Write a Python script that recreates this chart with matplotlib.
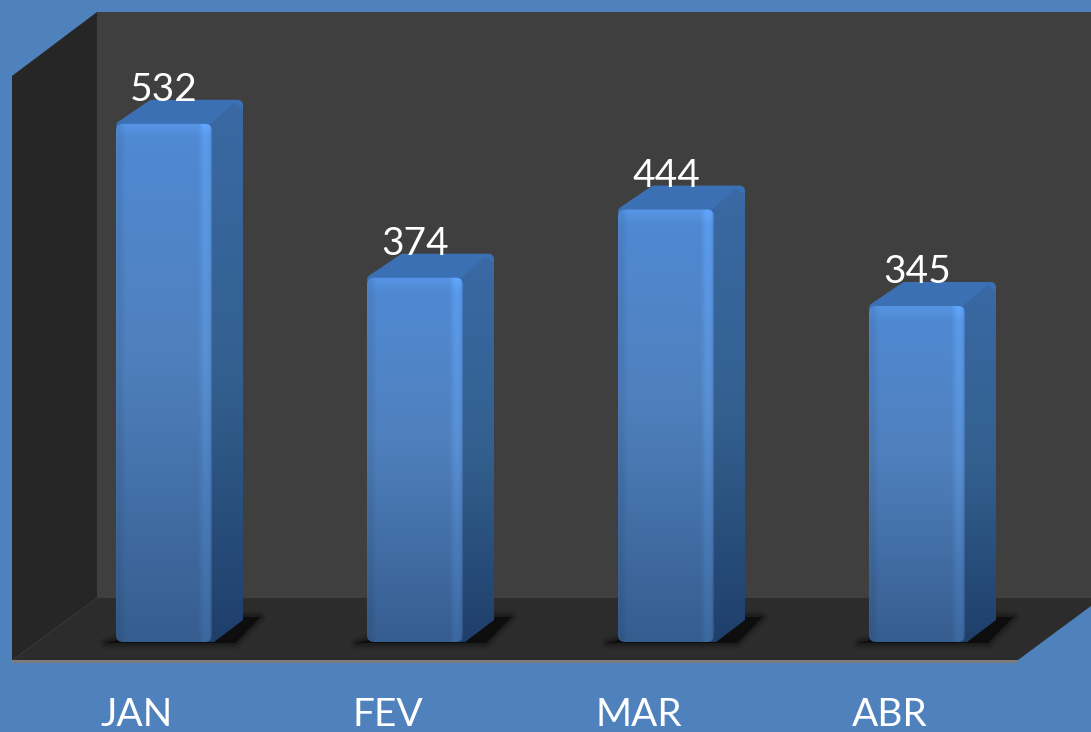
import numpy as np
import matplotlib
matplotlib.use("Agg")
import matplotlib.pyplot as plt
from matplotlib.patches import Polygon, FancyBboxPatch
from matplotlib.transforms import Affine2D

categories = ["JAN", "FEV", "MAR", "ABR"]
values = [532, 374, 444, 345]

W, H = 1091, 732
BLUE = "#4f81bd"
fig = plt.figure(figsize=(W / 100, H / 100), dpi=100, facecolor=BLUE)
ax = fig.add_axes([0, 0, 1, 1])
ax.axis("off")
# scale: category spacing 251 px, 0.974 px per unit, origin at (164, 642) px
SX, SY, X0, Y0 = 251.0, 0.974, 164.0, 642.0
xlim = (-X0 / SX, (W - X0) / SX)
ylim = ((Y0 - H) / SY, Y0 / SY)
ax.set_xlim(*xlim)
ax.set_ylim(*ylim)
pix = Affine2D().scale(1 / W, -1 / H).translate(0, 1) + fig.transFigure


def poly(pts, color, z):
    p = Polygon(pts, closed=True, facecolor=color, edgecolor="none", transform=pix, zorder=z)
    ax.add_patch(p)
    return p


# chart box
poly([(97, 12), (1091, 12), (1091, 598), (97, 598)], "#3f3f3f", 1)
poly([(12, 76), (97, 12), (97, 598), (12, 660)], "#262626", 1.1)
poly([(12, 660), (97, 598), (1091, 598), (1091, 606), (1018, 660)], "#2c2c2c", 1.2)
poly([(12, 660), (1018, 660), (1018, 663), (12, 663)], "#7c7c7c", 1.3)


def lerp(stops, t):
    xs = [s[0] for s in stops]
    return np.stack([np.interp(t, xs, [s[1][k] for s in stops]) for k in range(3)], axis=-1)


def hexc(h):
    return tuple(int(h[i:i + 2], 16) / 255 for i in (1, 3, 5))


BW = 96 / SX  # front face width, data units
DX, DY = 31 / SX, 24 / SY  # depth offset, data units
PXX, PXY = 1 / SX, 1 / SY
for i, v in enumerate(values):
    x0, x1 = i - BW / 2, i + BW / 2
    cx = X0 + i * SX
    # floor shadow, soft edge from stacked translucent outlines
    for grow, a in [(9, .10), (6, .15), (3, .25), (0, .85)]:
        p = Polygon([(cx - 58, 643), (cx + 71, 643), (cx + 96, 617), (cx + 40, 617)], closed=True,
                    facecolor="#0c0c0c", edgecolor="#0c0c0c", lw=grow, alpha=a,
                    transform=pix, zorder=2, joinstyle="round")
        ax.add_patch(p)

    # top face (inset polygon with a thick round-joined edge gives rounded corners)
    inset = 5
    top = Polygon([(x0 + inset * PXX, v - 2 * PXY),
                   (x0 + DX + 5 * PXX, v + DY - inset * PXY),
                   (x1 + DX - inset * PXX, v + DY - inset * PXY),
                   (x1 + DX - inset * PXX, v),
                   (x1, v - 2 * PXY)], closed=True,
                  facecolor="#3b70b4", edgecolor="#3b70b4", lw=2 * inset * 0.72,
                  joinstyle="round", zorder=3)
    ax.add_patch(top)

    # side face with chamfered upper and lower corners
    side_pts = [(x1 - 6 * PXX, 0), (x1 + 2 * PXX, 0), (x1 + DX, DY - 2 * PXY),
                (x1 + DX, v + DY - 9 * PXY), (x1 + DX - 9 * PXX, v + DY - 3 * PXY),
                (x1 - 2 * PXX, v)]
    side = Polygon(side_pts, closed=True, facecolor="none", edgecolor="none", zorder=3.1)
    ax.add_patch(side)
    t = np.linspace(0, 1, 80)
    sc = lerp([(0, hexc("#3a69a4")), (0.5, hexc("#33608f")), (1, hexc("#1f3f6b"))], t)[:, None, :]
    im = ax.imshow(sc, extent=(x1 - 6 * PXX, x1 + DX, 0, v + DY), origin="upper", aspect="auto",
                   zorder=3.1, interpolation="bilinear")
    im.set_clip_path(side)

    # front face
    front = FancyBboxPatch((x0, 0), BW, v, boxstyle="round,pad=0,rounding_size=0.028",
                           mutation_aspect=SX / SY, facecolor="none", edgecolor="none", zorder=3.2)
    ax.add_patch(front)
    ny, nx = 200, 96
    ty = np.linspace(0, 1, ny)
    base = lerp([(0, hexc("#508ad4")), (0.45, hexc("#4f80bd")), (1, hexc("#365d8f"))], ty)
    tx = np.linspace(0, 1, nx)
    hl = np.interp(tx, [0, 0.03, 0.10, 0.86, 0.93, 0.98, 1], [0.95, 0.92, 1.0, 1.0, 1.13, 1.10, 0.92])
    img = np.clip(base[:, None, :] * hl[None, :, None], 0, 1)
    # light rim along the top of the face
    rim = np.clip(1 - np.arange(ny) / (ny * 14 / max(v * SY, 1)), 0, 1)[:, None, None]
    img = np.clip(img * (1 + 0.08 * rim), 0, 1)
    im = ax.imshow(img, extent=(x0, x1, 0, v), origin="upper", aspect="auto",
                   zorder=3.2, interpolation="bilinear")
    im.set_clip_path(front)

    ax.text(i, v + 34 / SY, str(v), color="white", fontsize=28, family="Lato",
            ha="center", va="center", zorder=5)

for i, c in enumerate(categories):
    ax.text(i - 27 / SX, -73 / SY, c, color="white", fontsize=28, family="Lato",
            ha="center", va="center", zorder=5)

ax.set_xlim(*xlim)
ax.set_ylim(*ylim)
fig.savefig("out.png", dpi=100, facecolor=BLUE)
